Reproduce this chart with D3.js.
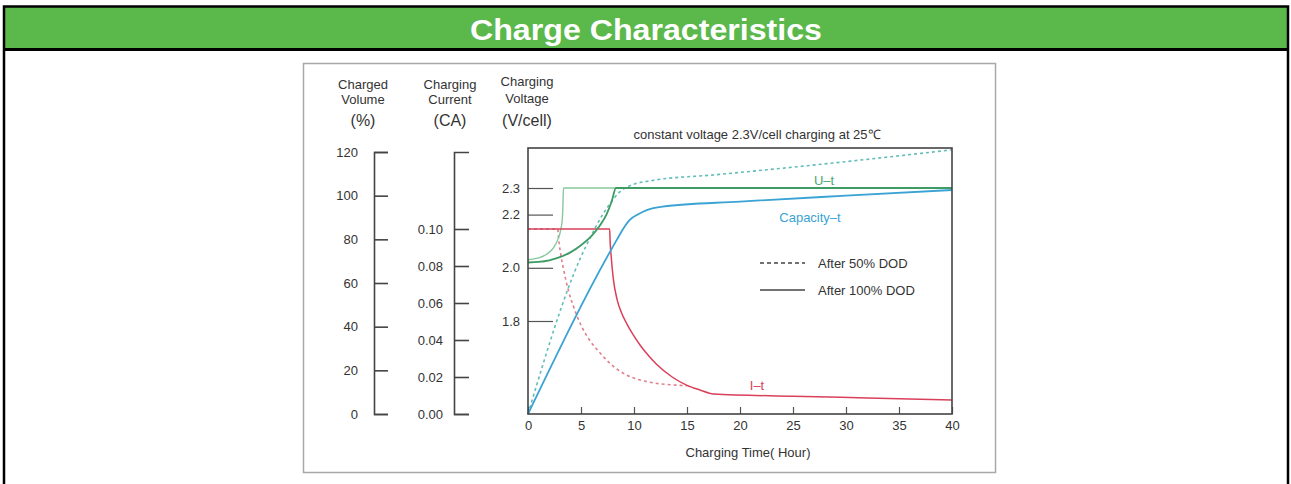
<!DOCTYPE html>
<html>
<head>
<meta charset="utf-8">
<script src="https://cdn.jsdelivr.net/npm/d3@7"></script>
<style>
body { margin: 0; background: #fff; }
text { font-family: "Liberation Sans", Arial, sans-serif; }
</style>
</head>
<body>
<div id="chart"></div>
<script>
// tick values for the four axes
const xTicks = [0, 5, 10, 15, 20, 25, 30, 35, 40];
const volumeTicks = [0, 20, 40, 60, 80, 100, 120];
const currentTicks = [0, 0.02, 0.04, 0.06, 0.08, 0.10];
const voltageTicks = [1.8, 2.0, 2.2, 2.3];

// I-t (charging current, CA)
const itFullHours = [0, 7.7, 7.75, 7.85, 8.05, 8.4, 8.8, 9.3, 9.9, 10.6, 11.3, 12.1, 13.6, 15.0, 16.2, 17.5, 25, 32, 40];
const itFullCurrent = [0.100, 0.100, 0.093, 0.085, 0.073, 0.062, 0.055, 0.049, 0.043, 0.037, 0.032, 0.027, 0.020, 0.0155, 0.013, 0.0108, 0.0096, 0.0087, 0.0076];
const itHalfHours = [0, 2.8, 2.9, 3.1, 3.4, 3.8, 4.3, 5.0, 5.8, 6.8, 7.8, 9.0, 10.5, 12.0, 13.5, 15.0];
const itHalfCurrent = [0.100, 0.100, 0.094, 0.086, 0.077, 0.067, 0.058, 0.048, 0.040, 0.033, 0.027, 0.022, 0.0185, 0.0167, 0.0158, 0.0153];

// U-t (charging voltage, V/cell)
const utFullHours = [0, 1, 2, 3, 4, 5, 6, 6.8, 7.4, 7.9, 8.3, 15, 25, 40];
const utFullVoltage = [2.02, 2.022, 2.028, 2.04, 2.058, 2.085, 2.12, 2.16, 2.2, 2.25, 2.3, 2.3, 2.3, 2.3];
const utHalfHours = [0, 1.0, 1.8, 2.4, 2.8, 3.1, 3.25, 3.3, 3.35, 8.3];
const utHalfVoltage = [2.03, 2.037, 2.052, 2.075, 2.105, 2.145, 2.19, 2.24, 2.3, 2.3];

// Capacity-t (charged volume, %)
const capFullHours = [0, 8.4, 9.0, 9.6, 10.4, 11.2, 12.7, 20, 30, 40];
const capFullVolume = [0, 80, 85, 88.9, 91.5, 93.4, 95, 97.3, 100, 102.6];
const capHalfHours = [0, 5.0, 6.0, 7.0, 8.0, 8.6, 9.6, 11.8, 17.5, 26.9, 40];
const capHalfVolume = [0, 72, 82, 91, 98, 101.5, 104.5, 107, 109.5, 114, 121];

const zip = (a, b) => a.map((v, i) => [v, b[i]]);

let svg = d3.select("#chart").append("svg").attr("width", 1291).attr("height", 484);

// page frame + green header
svg.append("rect").attr("x", 5).attr("y", 7).attr("width", 1282).attr("height", 42).attr("fill", "#5bb84b");
svg.append("rect").attr("x", 4).attr("y", 6.5).attr("width", 1284).attr("height", 520)
    .attr("fill", "none").attr("stroke", "#000").attr("stroke-width", 2.5);
svg.append("line").attr("x1", 4).attr("x2", 1288).attr("y1", 49.5).attr("y2", 49.5)
    .attr("stroke", "#000").attr("stroke-width", 3);
svg.append("text").attr("x", 646).attr("y", 30).attr("text-anchor", "middle")
    .attr("dominant-baseline", "central").attr("fill", "#fff")
    .attr("textLength", 352).attr("lengthAdjust", "spacingAndGlyphs")
    .style("font-size", "29px").style("font-weight", "bold").text("Charge Characteristics");

// image box
svg.append("rect").attr("x", 303.5).attr("y", 63.5).attr("width", 692).attr("height", 409)
    .attr("fill", "#fff").attr("stroke", "#a8a8a8").attr("stroke-width", 1.5);

let x_scale = d3.scaleLinear().domain([0, 40]).range([528, 952]);
let y_volt = d3.scaleLinear().domain([1.8, 2.3]).range([321, 188]);
let y_cur = d3.scaleLinear().domain([0, 0.1]).range([414, 229]);
let y_vol = d3.scaleLinear().domain([0, 120]).range([414, 152]);

function style_axis(g, col, w) {
    g.selectAll("path, line").attr("stroke", col).attr("stroke-width", w);
    g.selectAll("text").attr("fill", "#333").style("font-size", "13px");
}

// charged volume axis
let g_vol = svg.append("g").attr("transform", "translate(374,0)")
    .call(d3.axisLeft(y_vol).tickValues(volumeTicks).tickSizeInner(-14).tickSizeOuter(-14).tickPadding(16));
style_axis(g_vol, "#444", 1.6);

// charging current axis, line runs up to the same height as the volume axis
let cur_axis_scale = d3.scaleLinear().domain([0, y_cur.invert(152)]).range([414, 152]);
let g_cur = svg.append("g").attr("transform", "translate(454,0)")
    .call(d3.axisLeft(cur_axis_scale).tickValues(currentTicks).tickFormat(d3.format(".2f"))
        .tickSizeInner(-15).tickSizeOuter(-15).tickPadding(11));
style_axis(g_cur, "#444", 1.6);

// voltage axis = left side of the plot
let g_volt = svg.append("g").attr("transform", "translate(528,0)")
    .call(d3.axisLeft(y_volt).tickValues(voltageTicks).tickFormat(d3.format(".1f"))
        .tickSizeInner(-25).tickSizeOuter(0).tickPadding(8));
g_volt.select(".domain").remove();
style_axis(g_volt, "#555", 1.2);

let g_x = svg.append("g").attr("transform", "translate(0,414)")
    .call(d3.axisBottom(x_scale).tickValues(xTicks).tickSizeInner(-7).tickSizeOuter(0).tickPadding(7));
g_x.select(".domain").remove();
style_axis(g_x, "#555", 1.2);

// axis headers
const heads = [
    [363, ["Charged", "Volume"], "(%)"],
    [450, ["Charging", "Current"], "(CA)"],
    [527, ["Charging", "Voltage"], "(V/cell)"]
];
heads.forEach(function(h) {
    let t = svg.append("text").attr("text-anchor", "middle").attr("fill", "#333").style("font-size", "13px");
    if (h[0] == 527) {
        t.append("tspan").attr("x", h[0]).attr("y", 86).text(h[1][0]);
        t.append("tspan").attr("x", h[0]).attr("y", 103).text(h[1][1]);
    } else {
        t.append("tspan").attr("x", h[0]).attr("y", 89).text(h[1][0]);
        t.append("tspan").attr("x", h[0]).attr("y", 104).text(h[1][1]);
    }
    svg.append("text").attr("x", h[0]).attr("y", 126).attr("text-anchor", "middle")
        .attr("fill", "#333").style("font-size", "16px").text(h[2]);
});

// curves
let line_for = function(y) {
    return d3.line().x(d => x_scale(d[0])).y(d => y(d[1])).curve(d3.curveMonotoneX);
};
const series = [
    [zip(itHalfHours, itHalfCurrent), y_cur, "#e0808c", "3,3", 1.6],
    [zip(capHalfHours, capHalfVolume), y_vol, "#62bdb8", "3,3", 1.6],
    [zip(utHalfHours, utHalfVoltage), y_volt, "#86c99c", null, 1.4],
    [zip(itFullHours, itFullCurrent), y_cur, "#d9405a", null, 1.5],
    [zip(capFullHours, capFullVolume), y_vol, "#3aa3d4", null, 1.8],
    [zip(utFullHours, utFullVoltage), y_volt, "#3d9b63", null, 1.8]
];
series.forEach(function(s) {
    svg.append("path").datum(s[0])
        .attr("fill", "none").attr("stroke", s[2]).attr("stroke-width", s[4])
        .attr("stroke-dasharray", s[3])
        .attr("d", line_for(s[1]));
});

// plot frame
svg.append("rect").attr("x", 528).attr("y", 148).attr("width", 424).attr("height", 266)
    .attr("fill", "none").attr("stroke", "#444").attr("stroke-width", 1.6);

// texts in the plot
svg.append("text").attr("x", 757).attr("y", 139).attr("text-anchor", "middle").attr("fill", "#333")
    .style("font-size", "13px").text("constant voltage 2.3V/cell charging at 25\u2103");
svg.append("text").attr("x", 824).attr("y", 185).attr("text-anchor", "middle").attr("fill", "#4aa86e")
    .style("font-size", "13px").text("U\u2013t");
svg.append("text").attr("x", 810).attr("y", 222).attr("text-anchor", "middle").attr("fill", "#3aa3d4")
    .style("font-size", "13px").text("Capacity\u2013t");
svg.append("text").attr("x", 757).attr("y", 390).attr("text-anchor", "middle").attr("fill", "#d9405a")
    .style("font-size", "13px").text("I\u2013t");

// legend
const legend = [["After 50% DOD", "4,3", 263], ["After 100% DOD", null, 290]];
legend.forEach(function(l) {
    svg.append("line").attr("x1", 760).attr("x2", 805).attr("y1", l[2]).attr("y2", l[2])
        .attr("stroke", "#444").attr("stroke-width", 1.3).attr("stroke-dasharray", l[1]);
    svg.append("text").attr("x", 818).attr("y", l[2]).attr("dominant-baseline", "central")
        .attr("fill", "#333").style("font-size", "13px").text(l[0]);
});

svg.append("text").attr("x", 748).attr("y", 457).attr("text-anchor", "middle").attr("fill", "#333")
    .style("font-size", "13px").text("Charging Time( Hour)");
</script>
</body>
</html>
